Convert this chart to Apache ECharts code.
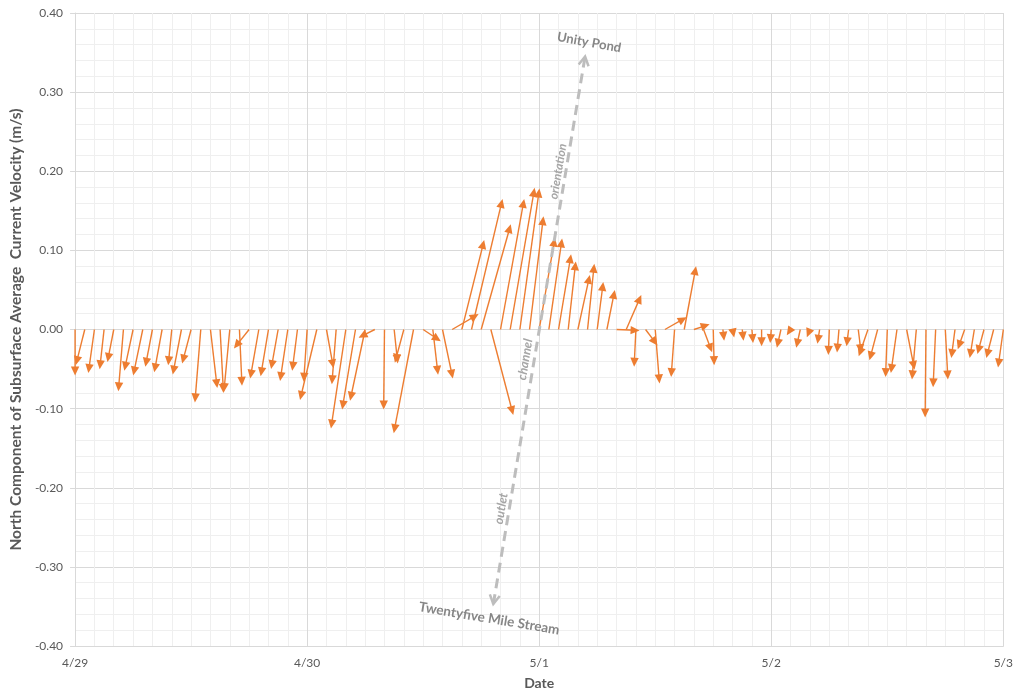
<!DOCTYPE html>
<html>
<head>
<meta charset="utf-8">
<script src="https://cdn.jsdelivr.net/npm/echarts@6/dist/echarts.min.js"></script>
<style>
html,body{margin:0;padding:0;background:#fff;}
#chart{width:1016px;height:695px;}
</style>
</head>
<body>
<div id="chart"></div>
<script>
// Hours since 4/29 00:00 (hourly observations)
var hours = [0,1,2,3,4,5,6,7,8,9,10,11,12,13,14,15,16,17,18,19,20,21,22,23,
  24,25,26,27,28,29,30,31,32,33,34,35,36,37,38,39,40,41,42,43,44,45,46,47,
  48,49,50,51,52,53,54,55,56,57,58,59,60,61,62,63,64,65,66,67,68,69,70,71,
  72,73,74,75,76,77,78,79,80,81,82,83,84,85,86,87,88,89,90,91,92,93,94,95,96];

// East component (m/s) — horizontal offset of each stick
var eastComp = [0.000,-0.010,-0.007,-0.005,-0.007,-0.006,-0.010,-0.011,-0.008,-0.009,-0.004,-0.010,
  -0.010,-0.007,0.008,0.004,-0.007,0.003,-0.016,-0.010,-0.009,-0.008,-0.009,-0.006,
  -0.004,-0.020,0.008,-0.005,-0.018,-0.016,-0.018,-0.016,-0.001,0.004,-0.010,-0.024,
  0.018,0.006,0.012,0.029,0.027,0.038,0.036,0.027,0.029,0.030,0.024,0.017,
  0.019,0.016,0.015,0.009,0.014,0.008,0.007,0.009,0.024,0.017,-0.002,0.012,
  0.005,0.023,-0.004,0.014,0.015,0.009,0.001,0.001,0.001,0.001,0.001,0.000,
  -0.001,-0.004,-0.002,-0.004,-0.002,-0.002,-0.001,-0.002,-0.002,0.003,-0.010,-0.009,
  -0.002,-0.007,0.009,-0.005,-0.001,-0.003,0.003,-0.004,-0.007,-0.005,-0.007,-0.008,-0.006];

// North component (m/s)
var northComp = [-0.053,-0.040,-0.050,-0.045,-0.036,-0.073,-0.047,-0.053,-0.042,-0.049,-0.040,-0.052,
  -0.038,-0.087,-0.069,-0.075,-0.074,-0.066,-0.020,-0.057,-0.054,-0.045,-0.060,-0.047,
  -0.061,-0.084,-0.044,-0.064,-0.120,-0.096,-0.085,-0.008,-0.096,-0.038,-0.037,-0.126,
  -0.012,-0.052,-0.057,0.017,0.108,0.160,0.128,-0.103,0.160,0.174,0.173,0.138,
  0.111,0.110,0.090,0.081,0.064,0.078,0.055,0.045,-0.001,0.039,-0.042,-0.016,
  -0.063,0.013,-0.055,0.075,0.005,-0.024,-0.040,-0.009,-0.005,-0.009,-0.012,-0.016,
  -0.012,-0.018,-0.003,-0.018,-0.005,-0.013,-0.027,-0.024,-0.016,-0.025,-0.029,-0.034,
  -0.055,-0.050,-0.046,-0.058,-0.106,-0.068,-0.058,-0.031,-0.020,-0.031,-0.026,-0.031,-0.043];

var dateLabels = ['4/29','4/30','5/1','5/2','5/3'];

// Channel orientation (anchor hour, [east, north] of the two ends)
var channelHour = 48;
var channelTop = [0.058, 0.345];
var channelBottom = [-0.058, -0.347];
var channelTexts = ['Unity Pond', 'orientation', 'channel', 'outlet', 'Twentyfive Mile Stream'];

var ORANGE = '#ED7D31';
var FONT = 'Lato, "Open Sans", sans-serif';

var stickData = hours.map(function (h, i) { return [h, eastComp[i], northComp[i]]; });

function renderStick(params, api) {
  var t = api.value(0), u = api.value(1), v = api.value(2);
  var s = api.coord([t, 0]);
  var k = api.size([0, 1])[1];
  var ex = s[0] + u * k, ey = s[1] - v * k;
  var dx = ex - s[0], dy = ey - s[1];
  var len = Math.sqrt(dx * dx + dy * dy) || 1;
  var ux = dx / len, uy = dy / len;
  var L = 9, W = 4.2;
  var tip = [ex + ux * L * 0.45, ey + uy * L * 0.45];
  var bx = ex - ux * L * 0.55, by = ey - uy * L * 0.55;
  var p1 = [bx - uy * W, by + ux * W], p2 = [bx + uy * W, by - ux * W];
  return {
    type: 'group',
    children: [
      { type: 'line', shape: { x1: s[0], y1: s[1], x2: ex, y2: ey },
        style: { stroke: ORANGE, lineWidth: 1.4 } },
      { type: 'polygon', shape: { points: [tip, p1, p2] },
        style: { fill: ORANGE } }
    ]
  };
}

function renderChannel(params, api) {
  var s = api.coord([api.value(0), 0]);
  var k = api.size([0, 1])[1];
  var top = [s[0] + api.value(1) * k, s[1] - api.value(2) * k];
  var bot = [s[0] + api.value(3) * k, s[1] - api.value(4) * k];
  var gray = '#BDBDBD';
  function chevron(end, from) {
    var dx = end[0] - from[0], dy = end[1] - from[1];
    var l = Math.sqrt(dx * dx + dy * dy);
    var ux = dx / l, uy = dy / l;
    var b = [end[0] - ux * 9, end[1] - uy * 9];
    return { type: 'polyline', shape: { points: [[b[0] - uy * 5, b[1] + ux * 5], end, [b[0] + uy * 5, b[1] - ux * 5]] },
      style: { stroke: gray, lineWidth: 2.5, fill: null } };
  }
  function txt(str, ox, oy, rot, color, size, italic) {
    return { type: 'text', x: s[0] + ox, y: s[1] + oy, rotation: rot,
      style: { text: str, fill: color, fontFamily: FONT, fontSize: size, fontWeight: 'bold',
        fontStyle: italic ? 'italic' : 'normal', align: 'center', verticalAlign: 'middle' } };
  }
  var ang = Math.atan2(top[1] - bot[1], top[0] - bot[0]);
  var rotLine = -ang;
  return {
    type: 'group',
    children: [
      { type: 'line', shape: { x1: bot[0], y1: bot[1], x2: top[0], y2: top[1] },
        style: { stroke: gray, lineWidth: 3, lineDash: [10, 6] } },
      chevron(top, bot),
      chevron(bot, top),
      txt(channelTexts[0], 50, -287, -0.18, '#868686', 13, false),
      txt(channelTexts[1], 19, -158, rotLine, '#A6A6A6', 12, true),
      txt(channelTexts[2], -14, 30, rotLine, '#A6A6A6', 12.5, true),
      txt(channelTexts[3], -38, 179, rotLine, '#A6A6A6', 12.5, true),
      txt(channelTexts[4], -50, 289, -0.165, '#868686', 13.5, false)
    ]
  };
}

var chart = echarts.init(document.getElementById('chart'), null, { renderer: 'canvas' });
chart.setOption({
  animation: false,
  backgroundColor: '#ffffff',
  grid: { left: 75, right: 11, top: 13, bottom: 47, containLabel: false },
  xAxis: {
    type: 'value', min: 0, max: 96, interval: 24,
    name: 'Date', nameLocation: 'middle', nameGap: 30,
    nameTextStyle: { color: '#595959', fontFamily: FONT, fontSize: 14, fontWeight: 'bold' },
    axisLine: { show: true, onZero: false, lineStyle: { color: '#D9D9D9', width: 1 } },
    axisTick: { show: false },
    axisLabel: { color: '#595959', fontFamily: FONT, fontSize: 12, margin: 11,
      formatter: function (v) { return dateLabels[Math.round(v / 24)] || ''; } },
    splitLine: { show: true, lineStyle: { color: '#D9D9D9', width: 1 } },
    minorTick: { show: false, splitNumber: 12 },
    minorSplitLine: { show: true, lineStyle: { color: '#EFEFEF', width: 1 } }
  },
  yAxis: {
    type: 'value', min: -0.4, max: 0.4, interval: 0.1,
    name: 'North Component of Subsurface Average  Current Velocity (m/s)',
    nameLocation: 'middle', nameGap: 50,
    nameTextStyle: { color: '#595959', fontFamily: FONT, fontSize: 15.5, fontWeight: 'bold' },
    axisLine: { show: true, onZero: false, lineStyle: { color: '#D9D9D9', width: 1 } },
    axisTick: { show: true, length: 5, lineStyle: { color: '#D9D9D9' } },
    axisLabel: { color: '#595959', fontFamily: FONT, fontSize: 12, margin: 12,
      formatter: function (v) { return v.toFixed(2); } },
    splitLine: { show: true, lineStyle: { color: '#D9D9D9', width: 1 } },
    minorTick: { show: false, splitNumber: 5 },
    minorSplitLine: { show: true, lineStyle: { color: '#EFEFEF', width: 1 } }
  },
  series: [
    { type: 'custom', name: 'velocity', renderItem: renderStick, data: stickData,
      encode: { x: 0, y: 2 }, clip: false, silent: true, z: 2 },
    { type: 'custom', name: 'channel', renderItem: renderChannel,
      data: [[channelHour, channelTop[0], channelTop[1], channelBottom[0], channelBottom[1]]],
      encode: { x: 0, y: 2 }, clip: false, silent: true, z: 3 }
  ]
});
</script>
</body>
</html>
